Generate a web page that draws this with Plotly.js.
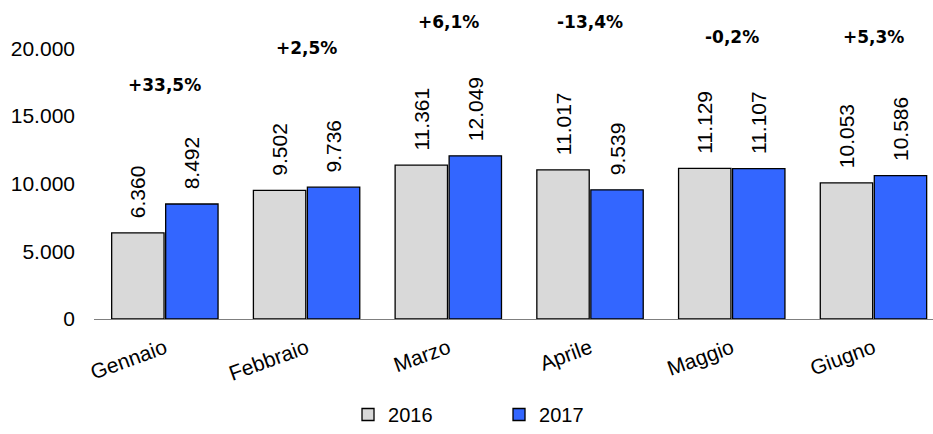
<!DOCTYPE html>
<html>
<head>
<meta charset="utf-8">
<script src="https://cdn.plot.ly/plotly-3.0.1.min.js"></script>
<style>html,body{margin:0;padding:0;background:#fff}#chart{width:933px;height:434px}</style>
</head>
<body>
<div id="chart"></div>
<script>
// ---- data ----
const months = ["Gennaio", "Febbraio", "Marzo", "Aprile", "Maggio", "Giugno"];
const values2016 = [6360, 9502, 11361, 11017, 11129, 10053];
const values2017 = [8492, 9736, 12049, 9539, 11107, 10586];
const seriesNames = ["2016", "2017"];
const yTicks = [0, 5000, 10000, 15000, 20000];

// ---- helpers ----
function pctLabel(a, b) {
  const p = (b / a - 1) * 100;
  const s = Math.abs(p).toFixed(1).replace('.', ',');
  return (p >= 0 ? '+' : '-') + s + '%';
}

const ARIAL = "Liberation Sans, Arial, sans-serif";
const labelFont = {family: ARIAL, size: 21, color: "#000"};

const traces = [
  {
    type: 'bar', name: seriesNames[0], x: months, y: values2016,
    marker: {color: '#D9D9D9', line: {color: '#000', width: 1.3}},
    texttemplate: '\u00a0\u00a0%{y:,}', textposition: 'outside', textangle: -90,
    textfont: labelFont, constraintext: 'none', cliponaxis: false, hoverinfo: 'none'
  },
  {
    type: 'bar', name: seriesNames[1], x: months, y: values2017,
    marker: {color: '#3366FF', line: {color: '#000', width: 1.3}},
    texttemplate: '\u00a0\u00a0%{y:,}', textposition: 'outside', textangle: -90,
    textfont: labelFont, constraintext: 'none', cliponaxis: false, hoverinfo: 'none'
  }
];

// heights (in axis units) at which the change labels sit
const changeLabelLevels = [17300, 20000, 21950, 21950, 20800, 20800];
const annotations = months.map((m, i) => ({
  x: m, y: changeLabelLevels[i], xref: 'x', yref: 'y',
  text: '<b>' + pctLabel(values2016[i], values2017[i]) + '</b>',
  showarrow: false, xanchor: 'center', yanchor: 'middle',
  font: {family: "DejaVu Sans, Verdana, sans-serif", size: 17, color: '#000'}
}));

const layout = {
  width: 933, height: 434,
  margin: {l: 94, r: 0, t: 0, b: 115},
  paper_bgcolor: '#fff', plot_bgcolor: '#fff',
  separators: ',.',
  barmode: 'group', bargap: 0.238, bargroupgap: 0.03,
  font: labelFont,
  showlegend: true,
  legend: {
    orientation: 'h', xref: 'container', yref: 'container',
    x: 0.373, xanchor: 'left', y: 0.0, yanchor: 'bottom',
    font: {family: ARIAL, size: 20, color: '#000'},
    entrywidth: 106, entrywidthmode: 'pixels', itemwidth: 30
  },
  xaxis: {
    type: 'category', range: [-0.5, 5.42], fixedrange: true,
    showline: true, linecolor: '#7f7f7f', linewidth: 1,
    ticks: '', tickangle: -20, showgrid: false, zeroline: false,
    ticklabelstandoff: 8,
    tickfont: {family: ARIAL, size: 21, color: '#000'}
  },
  yaxis: {
    range: [0, 23560], fixedrange: true,
    tickvals: yTicks, tickformat: ',d',
    showgrid: false, zeroline: false, showline: false, ticks: '',
    ticklabelstandoff: 18,
    tickfont: {family: ARIAL, size: 21, color: '#000'}
  },
  annotations: annotations
};

Plotly.newPlot('chart', traces, layout, {displayModeBar: false, staticPlot: true});
</script>
</body>
</html>
